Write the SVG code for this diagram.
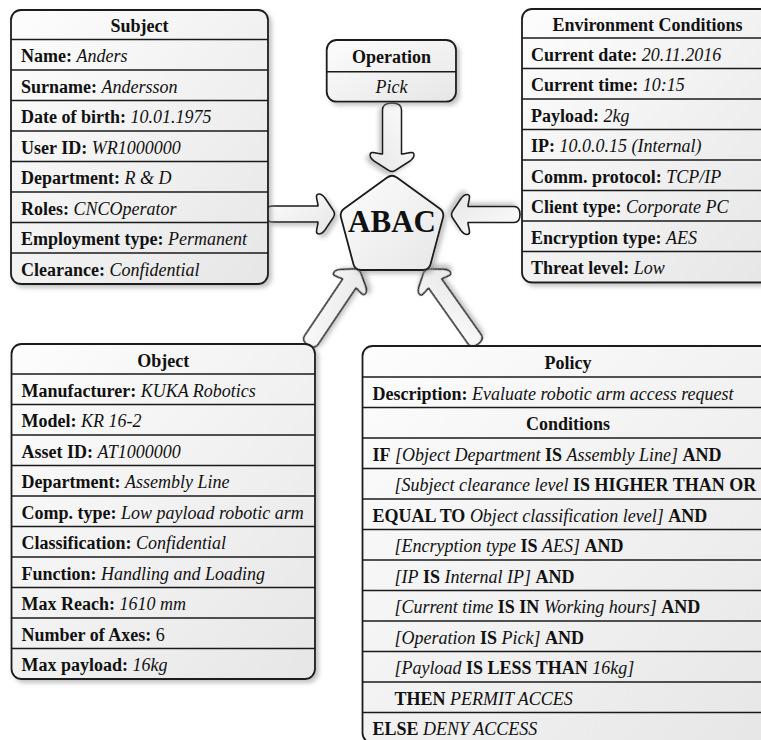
<svg xmlns="http://www.w3.org/2000/svg" width="761" height="740" viewBox="0 0 761 740">
<style>
  text { font-family: "Liberation Serif", "Times New Roman", serif; font-size: 18px; fill: #111; }
  .b { font-weight: bold; }
  .i { font-style: italic; }
  .c { text-anchor: middle; font-weight: bold; }
  .box { fill: url(#g); stroke: #1a1a1a; stroke-width: 1.8; filter: url(#sh); }
  .sep { stroke: #1a1a1a; stroke-width: 1.6; }
  .arr { fill: url(#g); stroke: #1a1a1a; stroke-width: 1.6; stroke-linejoin: round; filter: url(#sh); }
</style>
<defs>
  <linearGradient id="g" x1="0" y1="0" x2="1" y2="1">
    <stop offset="0" stop-color="#fdfdfd"/>
    <stop offset="1" stop-color="#e6e6e6"/>
  </linearGradient>
  <filter id="sh" x="-10%" y="-10%" width="130%" height="130%">
    <feDropShadow dx="3" dy="3" stdDeviation="2" flood-color="#888" flood-opacity="0.5"/>
  </filter>
  <path id="arrS" d="M6,-8 H52 C52,-13 48,-20 53,-20 Q56,-20 59,-16 L67,-4 Q70,0 67,4 L59,16 Q56,20 53,20 C48,20 52,13 52,8 H6 Q0,8 0,0 Q0,-8 6,-8 Z"/>
  <path id="arrT" d="M7,-9.5 H51 C51,-15 47,-22 52,-22 Q55,-22 58,-18 L67,-4 Q70,0 67,4 L58,18 Q55,22 52,22 C47,22 51,15 51,9.5 H7 Q0,9.5 0,0 Q0,-9.5 7,-9.5 Z"/>
  <path id="arrL" d="M6,-8 H74 C74,-13 70,-19 75,-19 Q78,-19 81,-15 L89,-4 Q92,0 89,4 L81,15 Q78,19 75,19 C70,19 74,13 74,8 H6 Q0,8 0,0 Q0,-8 6,-8 Z"/>
</defs>

<g id="connectors">
  <use href="#arrT" class="arr" transform="translate(392,103) rotate(90)"/>
  <use href="#arrS" class="arr" transform="translate(266,214)"/>
  <use href="#arrS" class="arr" transform="translate(520,214.5) rotate(180)"/>
  <use href="#arrL" class="arr" transform="translate(308,345) rotate(-56.1)"/>
  <use href="#arrL" class="arr" transform="translate(478,344) rotate(-125.3)"/>
</g>

<g id="abac">
  <path class="box" d="M396.86,177.52 L439.64,208.48 Q444.5,212 442.95,217.8 L430.55,264.2 Q429,270 423,270 L361,270 Q355,270 353.45,264.2 L341.05,217.8 Q339.5,212 344.36,208.48 L387.14,177.52 Q392,174 396.86,177.52 Z"/>
  <text x="392" y="232" class="c" style="font-size:31px">ABAC</text>
</g>

<g id="operation">
  <rect class="box" x="326.7" y="40" width="129.3" height="61.7" rx="10"/>
  <line class="sep" x1="326.7" y1="71.7" x2="456" y2="71.7"/>
  <text x="391.5" y="63" class="c">Operation</text>
  <text x="391.5" y="93" class="i" text-anchor="middle">Pick</text>
</g>

<g id="subject">
  <rect class="box" x="11" y="10" width="257" height="274" rx="10"/>
  <line class="sep" x1="11" y1="39.5" x2="268" y2="39.5"/>
  <line class="sep" x1="11" y1="70" x2="268" y2="70"/>
  <line class="sep" x1="11" y1="100.5" x2="268" y2="100.5"/>
  <line class="sep" x1="11" y1="131" x2="268" y2="131"/>
  <line class="sep" x1="11" y1="161.5" x2="268" y2="161.5"/>
  <line class="sep" x1="11" y1="192" x2="268" y2="192"/>
  <line class="sep" x1="11" y1="222.5" x2="268" y2="222.5"/>
  <line class="sep" x1="11" y1="253" x2="268" y2="253"/>
  <text x="139.5" y="32" class="c">Subject</text>
  <text x="21" y="62"><tspan class="b">Name:</tspan> <tspan class="i">Anders</tspan></text>
  <text x="21" y="92.5"><tspan class="b">Surname:</tspan> <tspan class="i">Andersson</tspan></text>
  <text x="21" y="123"><tspan class="b">Date of birth:</tspan> <tspan class="i">10.01.1975</tspan></text>
  <text x="21" y="153.5"><tspan class="b">User ID:</tspan> <tspan class="i">WR1000000</tspan></text>
  <text x="21" y="184"><tspan class="b">Department:</tspan> <tspan class="i">R &amp; D</tspan></text>
  <text x="21" y="214.5"><tspan class="b">Roles:</tspan> <tspan class="i">CNCOperator</tspan></text>
  <text x="21" y="245"><tspan class="b">Employment type:</tspan> <tspan class="i">Permanent</tspan></text>
  <text x="21" y="275.5"><tspan class="b">Clearance:</tspan> <tspan class="i">Confidential</tspan></text>
</g>

<g id="environment">
  <rect class="box" x="522" y="9" width="251" height="273.5" rx="10"/>
  <line class="sep" x1="522" y1="38" x2="773" y2="38"/>
  <line class="sep" x1="522" y1="68.5" x2="773" y2="68.5"/>
  <line class="sep" x1="522" y1="99" x2="773" y2="99"/>
  <line class="sep" x1="522" y1="129.5" x2="773" y2="129.5"/>
  <line class="sep" x1="522" y1="160" x2="773" y2="160"/>
  <line class="sep" x1="522" y1="190.5" x2="773" y2="190.5"/>
  <line class="sep" x1="522" y1="221" x2="773" y2="221"/>
  <line class="sep" x1="522" y1="251.5" x2="773" y2="251.5"/>
  <text x="647.5" y="31" class="c">Environment Conditions</text>
  <text x="531" y="60.5"><tspan class="b">Current date:</tspan> <tspan class="i">20.11.2016</tspan></text>
  <text x="531" y="91"><tspan class="b">Current time:</tspan> <tspan class="i">10:15</tspan></text>
  <text x="531" y="121.5"><tspan class="b">Payload:</tspan> <tspan class="i">2kg</tspan></text>
  <text x="531" y="152"><tspan class="b">IP:</tspan> <tspan class="i">10.0.0.15 (Internal)</tspan></text>
  <text x="531" y="182.5"><tspan class="b">Comm. protocol:</tspan> <tspan class="i">TCP/IP</tspan></text>
  <text x="531" y="213"><tspan class="b">Client type:</tspan> <tspan class="i">Corporate PC</tspan></text>
  <text x="531" y="243.5"><tspan class="b">Encryption type:</tspan> <tspan class="i">AES</tspan></text>
  <text x="531" y="274"><tspan class="b">Threat level:</tspan> <tspan class="i">Low</tspan></text>
</g>

<g id="object">
  <rect class="box" x="11.5" y="344" width="303.5" height="335" rx="10"/>
  <line class="sep" x1="11.5" y1="374" x2="315" y2="374"/>
  <line class="sep" x1="11.5" y1="404.5" x2="315" y2="404.5"/>
  <line class="sep" x1="11.5" y1="435" x2="315" y2="435"/>
  <line class="sep" x1="11.5" y1="465.5" x2="315" y2="465.5"/>
  <line class="sep" x1="11.5" y1="496" x2="315" y2="496"/>
  <line class="sep" x1="11.5" y1="526.5" x2="315" y2="526.5"/>
  <line class="sep" x1="11.5" y1="557" x2="315" y2="557"/>
  <line class="sep" x1="11.5" y1="587.5" x2="315" y2="587.5"/>
  <line class="sep" x1="11.5" y1="618" x2="315" y2="618"/>
  <line class="sep" x1="11.5" y1="648.5" x2="315" y2="648.5"/>
  <text x="163.3" y="366.5" class="c">Object</text>
  <text x="21.5" y="396.5"><tspan class="b">Manufacturer:</tspan> <tspan class="i">KUKA Robotics</tspan></text>
  <text x="21.5" y="427"><tspan class="b">Model:</tspan> <tspan class="i">KR 16-2</tspan></text>
  <text x="21.5" y="457.5"><tspan class="b">Asset ID:</tspan> <tspan class="i">AT1000000</tspan></text>
  <text x="21.5" y="488"><tspan class="b">Department:</tspan> <tspan class="i">Assembly Line</tspan></text>
  <text x="21.5" y="518.5"><tspan class="b">Comp. type:</tspan> <tspan class="i">Low payload robotic arm</tspan></text>
  <text x="21.5" y="549"><tspan class="b">Classification:</tspan> <tspan class="i">Confidential</tspan></text>
  <text x="21.5" y="579.5"><tspan class="b">Function:</tspan> <tspan class="i">Handling and Loading</tspan></text>
  <text x="21.5" y="610"><tspan class="b">Max Reach:</tspan> <tspan class="i">1610 mm</tspan></text>
  <text x="21.5" y="640.5"><tspan class="b">Number of Axes:</tspan> 6</text>
  <text x="21.5" y="671"><tspan class="b">Max payload:</tspan> <tspan class="i">16kg</tspan></text>
</g>

<g id="policy">
  <rect class="box" x="362.5" y="346" width="411.5" height="397" rx="10"/>
  <line class="sep" x1="362.5" y1="377" x2="774" y2="377"/>
  <line class="sep" x1="362.5" y1="407.5" x2="774" y2="407.5"/>
  <line class="sep" x1="362.5" y1="438" x2="774" y2="438"/>
  <line class="sep" x1="362.5" y1="468.5" x2="774" y2="468.5"/>
  <line class="sep" x1="362.5" y1="499" x2="774" y2="499"/>
  <line class="sep" x1="362.5" y1="529.5" x2="774" y2="529.5"/>
  <line class="sep" x1="362.5" y1="560" x2="774" y2="560"/>
  <line class="sep" x1="362.5" y1="590.5" x2="774" y2="590.5"/>
  <line class="sep" x1="362.5" y1="621" x2="774" y2="621"/>
  <line class="sep" x1="362.5" y1="651.5" x2="774" y2="651.5"/>
  <line class="sep" x1="362.5" y1="682" x2="774" y2="682"/>
  <line class="sep" x1="362.5" y1="712.5" x2="774" y2="712.5"/>
  <text x="568" y="368.5" class="c">Policy</text>
  <text x="372.5" y="399.5"><tspan class="b">Description:</tspan> <tspan class="i">Evaluate robotic arm access request</tspan></text>
  <text x="568" y="430" class="c">Conditions</text>
  <text x="372.5" y="460.5"><tspan class="b">IF</tspan> <tspan class="i">[Object Department</tspan> <tspan class="b">IS</tspan> <tspan class="i">Assembly Line]</tspan> <tspan class="b">AND</tspan></text>
  <text x="394.5" y="491"><tspan class="i">[Subject clearance level</tspan> <tspan class="b">IS HIGHER THAN OR</tspan></text>
  <text x="372.5" y="521.5"><tspan class="b">EQUAL TO</tspan> <tspan class="i">Object classification level]</tspan> <tspan class="b">AND</tspan></text>
  <text x="394.5" y="552"><tspan class="i">[Encryption type</tspan> <tspan class="b">IS</tspan> <tspan class="i">AES]</tspan> <tspan class="b">AND</tspan></text>
  <text x="394.5" y="582.5"><tspan class="i">[IP</tspan> <tspan class="b">IS</tspan> <tspan class="i">Internal IP]</tspan> <tspan class="b">AND</tspan></text>
  <text x="394.5" y="613"><tspan class="i">[Current time</tspan> <tspan class="b">IS IN</tspan> <tspan class="i">Working hours]</tspan> <tspan class="b">AND</tspan></text>
  <text x="394.5" y="643.5"><tspan class="i">[Operation</tspan> <tspan class="b">IS</tspan> <tspan class="i">Pick]</tspan> <tspan class="b">AND</tspan></text>
  <text x="394.5" y="674"><tspan class="i">[Payload</tspan> <tspan class="b">IS LESS THAN</tspan> <tspan class="i">16kg]</tspan></text>
  <text x="394.5" y="704.5"><tspan class="b">THEN</tspan> <tspan class="i">PERMIT ACCES</tspan></text>
  <text x="372.5" y="735"><tspan class="b">ELSE</tspan> <tspan class="i">DENY ACCESS</tspan></text>
</g>
</svg>
